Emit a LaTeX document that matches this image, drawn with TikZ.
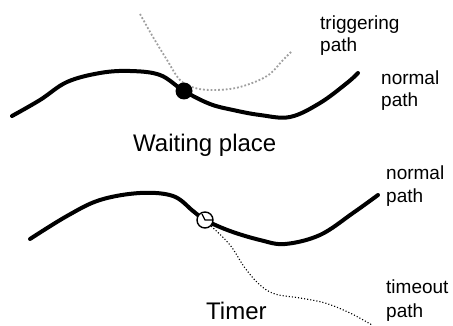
\documentclass[tikz,border=0pt]{standalone}
\usepackage{fontspec}
\setmainfont{Liberation Sans}
\begin{document}
\begin{tikzpicture}[x=1pt,y=-1pt,
  thickpath/.style={line width=4pt,line cap=round,line join=round},
  trigpath/.style={line width=1.8pt,gray!75,dotted},
  timepath/.style={line width=1.1pt,black,dotted},
  lbl/.style={anchor=base west,inner sep=0pt,font=\fontsize{19}{23}\selectfont},
  big/.style={anchor=base west,inner sep=0pt,font=\fontsize{24}{28}\selectfont},
  waitdot/.style={circle,fill=black,minimum size=17pt,inner sep=0pt},
  timerdot/.style={circle,draw=black,fill=white,line width=1.4pt,minimum size=16pt,inner sep=0pt}]
\useasboundingbox (0,0) rectangle (453,326);
% ---- Waiting place ----
\draw[trigpath] plot[smooth,tension=0.6] coordinates {(140,14) (153,37) (167,60) (180,80) (195,88) (215,90) (240,87) (267,76) (283,60) (292,51)};
\draw[thickpath] plot[smooth,tension=0.6] coordinates {(12,116) (40,100) (67,82) (100,73) (130,71) (160,75) (184,91) (210,104) (233,110) (260,115) (290,117) (320,103) (347,83) (358,73)};
\node[waitdot] (wp) at (184,91) {};
\node[lbl] (trig1) at (320,29.5) {triggering};
\node[lbl] (trig2) at (320,52) {path};
\node[lbl] (norm1) at (381,85) {normal};
\node[lbl] (norm2) at (381,107) {path};
\node[big] (wlabel) at (133,152) {Waiting place};
% ---- Timer ----
\draw[thickpath] plot[smooth,tension=0.6] coordinates {(30,239) (67,216) (100,200) (140,193) (173,196) (193,211) (205,220) (230,231) (260,240) (285,244) (320,235) (353,213) (378,195)};
\node[timerdot] (tm) at (205,220) {};
\draw[line width=1.2pt] (tm.center) ++(-3,-6) -- ++(3,6) -- ++(7,0);
\draw[timepath] plot[smooth,tension=0.6] coordinates {(tm.south east) (230,245) (245,268) (260,285) (275,294) (300,298) (325,303) (350,313) (372,325)};
\node[lbl] (norm3) at (386,180) {normal};
\node[lbl] (norm4) at (386,203) {path};
\node[lbl] (to1) at (386,293) {timeout};
\node[lbl] (to2) at (386,317) {path};
\node[big] (tlabel) at (206,319) {Timer};
\end{tikzpicture}
\end{document}
